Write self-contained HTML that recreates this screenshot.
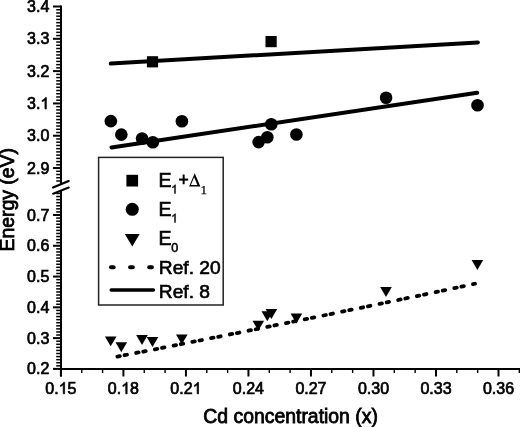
<!DOCTYPE html>
<html><head><meta charset="utf-8"><style>
html,body{margin:0;padding:0;background:#fff;}
body{width:520px;height:427px;overflow:hidden;}
svg{display:block;filter:blur(0.35px);}
text{font-family:"Liberation Sans",sans-serif;fill:#000;}
.tl{font-size:16px;stroke:#000;stroke-width:0.7px;}
.at{font-size:19.4px;stroke:#000;stroke-width:0.8px;}
.lg{font-size:19.2px;stroke:#000;stroke-width:0.65px;}
.sub{font-size:13px;stroke-width:0.35px;}
.subs{font-size:13px;font-family:"Liberation Serif",serif;stroke:#000;stroke-width:0.25px;}
.dl{font-family:"Liberation Serif",serif;stroke-width:0.3px;}
</style></head><body>
<svg width="520" height="427" viewBox="0 0 520 427">
<rect width="520" height="427" fill="#fff"/>
<line x1="61" y1="5.5" x2="61" y2="184.3" stroke="#000" stroke-width="2"/>
<line x1="53" y1="6.5" x2="61" y2="6.5" stroke="#000" stroke-width="2"/>
<line x1="56.2" y1="9.73" x2="61" y2="9.73" stroke="#000" stroke-width="1.5"/>
<line x1="56.2" y1="12.96" x2="61" y2="12.96" stroke="#000" stroke-width="1.5"/>
<line x1="56.2" y1="16.19" x2="61" y2="16.19" stroke="#000" stroke-width="1.5"/>
<line x1="56.2" y1="19.42" x2="61" y2="19.42" stroke="#000" stroke-width="1.5"/>
<line x1="56.2" y1="22.66" x2="61" y2="22.66" stroke="#000" stroke-width="1.5"/>
<line x1="56.2" y1="25.89" x2="61" y2="25.89" stroke="#000" stroke-width="1.5"/>
<line x1="56.2" y1="29.12" x2="61" y2="29.12" stroke="#000" stroke-width="1.5"/>
<line x1="56.2" y1="32.35" x2="61" y2="32.35" stroke="#000" stroke-width="1.5"/>
<line x1="56.2" y1="35.58" x2="61" y2="35.58" stroke="#000" stroke-width="1.5"/>
<line x1="53" y1="38.81" x2="61" y2="38.81" stroke="#000" stroke-width="2"/>
<line x1="56.2" y1="42.04" x2="61" y2="42.04" stroke="#000" stroke-width="1.5"/>
<line x1="56.2" y1="45.27" x2="61" y2="45.27" stroke="#000" stroke-width="1.5"/>
<line x1="56.2" y1="48.5" x2="61" y2="48.5" stroke="#000" stroke-width="1.5"/>
<line x1="56.2" y1="51.73" x2="61" y2="51.73" stroke="#000" stroke-width="1.5"/>
<line x1="56.2" y1="54.97" x2="61" y2="54.97" stroke="#000" stroke-width="1.5"/>
<line x1="56.2" y1="58.2" x2="61" y2="58.2" stroke="#000" stroke-width="1.5"/>
<line x1="56.2" y1="61.43" x2="61" y2="61.43" stroke="#000" stroke-width="1.5"/>
<line x1="56.2" y1="64.66" x2="61" y2="64.66" stroke="#000" stroke-width="1.5"/>
<line x1="56.2" y1="67.89" x2="61" y2="67.89" stroke="#000" stroke-width="1.5"/>
<line x1="53" y1="71.12" x2="61" y2="71.12" stroke="#000" stroke-width="2"/>
<line x1="56.2" y1="74.35" x2="61" y2="74.35" stroke="#000" stroke-width="1.5"/>
<line x1="56.2" y1="77.58" x2="61" y2="77.58" stroke="#000" stroke-width="1.5"/>
<line x1="56.2" y1="80.81" x2="61" y2="80.81" stroke="#000" stroke-width="1.5"/>
<line x1="56.2" y1="84.04" x2="61" y2="84.04" stroke="#000" stroke-width="1.5"/>
<line x1="56.2" y1="87.28" x2="61" y2="87.28" stroke="#000" stroke-width="1.5"/>
<line x1="56.2" y1="90.51" x2="61" y2="90.51" stroke="#000" stroke-width="1.5"/>
<line x1="56.2" y1="93.74" x2="61" y2="93.74" stroke="#000" stroke-width="1.5"/>
<line x1="56.2" y1="96.97" x2="61" y2="96.97" stroke="#000" stroke-width="1.5"/>
<line x1="56.2" y1="100.2" x2="61" y2="100.2" stroke="#000" stroke-width="1.5"/>
<line x1="53" y1="103.43" x2="61" y2="103.43" stroke="#000" stroke-width="2"/>
<line x1="56.2" y1="106.66" x2="61" y2="106.66" stroke="#000" stroke-width="1.5"/>
<line x1="56.2" y1="109.89" x2="61" y2="109.89" stroke="#000" stroke-width="1.5"/>
<line x1="56.2" y1="113.12" x2="61" y2="113.12" stroke="#000" stroke-width="1.5"/>
<line x1="56.2" y1="116.35" x2="61" y2="116.35" stroke="#000" stroke-width="1.5"/>
<line x1="56.2" y1="119.59" x2="61" y2="119.59" stroke="#000" stroke-width="1.5"/>
<line x1="56.2" y1="122.82" x2="61" y2="122.82" stroke="#000" stroke-width="1.5"/>
<line x1="56.2" y1="126.05" x2="61" y2="126.05" stroke="#000" stroke-width="1.5"/>
<line x1="56.2" y1="129.28" x2="61" y2="129.28" stroke="#000" stroke-width="1.5"/>
<line x1="56.2" y1="132.51" x2="61" y2="132.51" stroke="#000" stroke-width="1.5"/>
<line x1="53" y1="135.74" x2="61" y2="135.74" stroke="#000" stroke-width="2"/>
<line x1="56.2" y1="138.97" x2="61" y2="138.97" stroke="#000" stroke-width="1.5"/>
<line x1="56.2" y1="142.2" x2="61" y2="142.2" stroke="#000" stroke-width="1.5"/>
<line x1="56.2" y1="145.43" x2="61" y2="145.43" stroke="#000" stroke-width="1.5"/>
<line x1="56.2" y1="148.66" x2="61" y2="148.66" stroke="#000" stroke-width="1.5"/>
<line x1="56.2" y1="151.9" x2="61" y2="151.9" stroke="#000" stroke-width="1.5"/>
<line x1="56.2" y1="155.13" x2="61" y2="155.13" stroke="#000" stroke-width="1.5"/>
<line x1="56.2" y1="158.36" x2="61" y2="158.36" stroke="#000" stroke-width="1.5"/>
<line x1="56.2" y1="161.59" x2="61" y2="161.59" stroke="#000" stroke-width="1.5"/>
<line x1="56.2" y1="164.82" x2="61" y2="164.82" stroke="#000" stroke-width="1.5"/>
<line x1="53" y1="168.05" x2="61" y2="168.05" stroke="#000" stroke-width="2"/>
<line x1="56.2" y1="171.28" x2="61" y2="171.28" stroke="#000" stroke-width="1.5"/>
<line x1="56.2" y1="174.51" x2="61" y2="174.51" stroke="#000" stroke-width="1.5"/>
<line x1="56.2" y1="177.74" x2="61" y2="177.74" stroke="#000" stroke-width="1.5"/>
<line x1="56.2" y1="180.97" x2="61" y2="180.97" stroke="#000" stroke-width="1.5"/>
<line x1="61" y1="190.5" x2="61" y2="376.5" stroke="#000" stroke-width="2"/>
<line x1="56.2" y1="193.45" x2="61" y2="193.45" stroke="#000" stroke-width="1.5"/>
<line x1="56.2" y1="196.53" x2="61" y2="196.53" stroke="#000" stroke-width="1.5"/>
<line x1="56.2" y1="199.61" x2="61" y2="199.61" stroke="#000" stroke-width="1.5"/>
<line x1="56.2" y1="202.69" x2="61" y2="202.69" stroke="#000" stroke-width="1.5"/>
<line x1="56.2" y1="205.77" x2="61" y2="205.77" stroke="#000" stroke-width="1.5"/>
<line x1="56.2" y1="208.84" x2="61" y2="208.84" stroke="#000" stroke-width="1.5"/>
<line x1="56.2" y1="211.92" x2="61" y2="211.92" stroke="#000" stroke-width="1.5"/>
<line x1="53" y1="215" x2="61" y2="215" stroke="#000" stroke-width="2"/>
<line x1="56.2" y1="218.08" x2="61" y2="218.08" stroke="#000" stroke-width="1.5"/>
<line x1="56.2" y1="221.16" x2="61" y2="221.16" stroke="#000" stroke-width="1.5"/>
<line x1="56.2" y1="224.23" x2="61" y2="224.23" stroke="#000" stroke-width="1.5"/>
<line x1="56.2" y1="227.31" x2="61" y2="227.31" stroke="#000" stroke-width="1.5"/>
<line x1="56.2" y1="230.39" x2="61" y2="230.39" stroke="#000" stroke-width="1.5"/>
<line x1="56.2" y1="233.47" x2="61" y2="233.47" stroke="#000" stroke-width="1.5"/>
<line x1="56.2" y1="236.55" x2="61" y2="236.55" stroke="#000" stroke-width="1.5"/>
<line x1="56.2" y1="239.62" x2="61" y2="239.62" stroke="#000" stroke-width="1.5"/>
<line x1="56.2" y1="242.7" x2="61" y2="242.7" stroke="#000" stroke-width="1.5"/>
<line x1="53" y1="245.78" x2="61" y2="245.78" stroke="#000" stroke-width="2"/>
<line x1="56.2" y1="248.86" x2="61" y2="248.86" stroke="#000" stroke-width="1.5"/>
<line x1="56.2" y1="251.94" x2="61" y2="251.94" stroke="#000" stroke-width="1.5"/>
<line x1="56.2" y1="255.01" x2="61" y2="255.01" stroke="#000" stroke-width="1.5"/>
<line x1="56.2" y1="258.09" x2="61" y2="258.09" stroke="#000" stroke-width="1.5"/>
<line x1="56.2" y1="261.17" x2="61" y2="261.17" stroke="#000" stroke-width="1.5"/>
<line x1="56.2" y1="264.25" x2="61" y2="264.25" stroke="#000" stroke-width="1.5"/>
<line x1="56.2" y1="267.33" x2="61" y2="267.33" stroke="#000" stroke-width="1.5"/>
<line x1="56.2" y1="270.4" x2="61" y2="270.4" stroke="#000" stroke-width="1.5"/>
<line x1="56.2" y1="273.48" x2="61" y2="273.48" stroke="#000" stroke-width="1.5"/>
<line x1="53" y1="276.56" x2="61" y2="276.56" stroke="#000" stroke-width="2"/>
<line x1="56.2" y1="279.64" x2="61" y2="279.64" stroke="#000" stroke-width="1.5"/>
<line x1="56.2" y1="282.72" x2="61" y2="282.72" stroke="#000" stroke-width="1.5"/>
<line x1="56.2" y1="285.79" x2="61" y2="285.79" stroke="#000" stroke-width="1.5"/>
<line x1="56.2" y1="288.87" x2="61" y2="288.87" stroke="#000" stroke-width="1.5"/>
<line x1="56.2" y1="291.95" x2="61" y2="291.95" stroke="#000" stroke-width="1.5"/>
<line x1="56.2" y1="295.03" x2="61" y2="295.03" stroke="#000" stroke-width="1.5"/>
<line x1="56.2" y1="298.11" x2="61" y2="298.11" stroke="#000" stroke-width="1.5"/>
<line x1="56.2" y1="301.18" x2="61" y2="301.18" stroke="#000" stroke-width="1.5"/>
<line x1="56.2" y1="304.26" x2="61" y2="304.26" stroke="#000" stroke-width="1.5"/>
<line x1="53" y1="307.34" x2="61" y2="307.34" stroke="#000" stroke-width="2"/>
<line x1="56.2" y1="310.42" x2="61" y2="310.42" stroke="#000" stroke-width="1.5"/>
<line x1="56.2" y1="313.5" x2="61" y2="313.5" stroke="#000" stroke-width="1.5"/>
<line x1="56.2" y1="316.57" x2="61" y2="316.57" stroke="#000" stroke-width="1.5"/>
<line x1="56.2" y1="319.65" x2="61" y2="319.65" stroke="#000" stroke-width="1.5"/>
<line x1="56.2" y1="322.73" x2="61" y2="322.73" stroke="#000" stroke-width="1.5"/>
<line x1="56.2" y1="325.81" x2="61" y2="325.81" stroke="#000" stroke-width="1.5"/>
<line x1="56.2" y1="328.89" x2="61" y2="328.89" stroke="#000" stroke-width="1.5"/>
<line x1="56.2" y1="331.96" x2="61" y2="331.96" stroke="#000" stroke-width="1.5"/>
<line x1="56.2" y1="335.04" x2="61" y2="335.04" stroke="#000" stroke-width="1.5"/>
<line x1="53" y1="338.12" x2="61" y2="338.12" stroke="#000" stroke-width="2"/>
<line x1="56.2" y1="341.2" x2="61" y2="341.2" stroke="#000" stroke-width="1.5"/>
<line x1="56.2" y1="344.28" x2="61" y2="344.28" stroke="#000" stroke-width="1.5"/>
<line x1="56.2" y1="347.35" x2="61" y2="347.35" stroke="#000" stroke-width="1.5"/>
<line x1="56.2" y1="350.43" x2="61" y2="350.43" stroke="#000" stroke-width="1.5"/>
<line x1="56.2" y1="353.51" x2="61" y2="353.51" stroke="#000" stroke-width="1.5"/>
<line x1="56.2" y1="356.59" x2="61" y2="356.59" stroke="#000" stroke-width="1.5"/>
<line x1="56.2" y1="359.67" x2="61" y2="359.67" stroke="#000" stroke-width="1.5"/>
<line x1="56.2" y1="362.74" x2="61" y2="362.74" stroke="#000" stroke-width="1.5"/>
<line x1="56.2" y1="365.82" x2="61" y2="365.82" stroke="#000" stroke-width="1.5"/>
<line x1="53" y1="368.9" x2="61" y2="368.9" stroke="#000" stroke-width="2"/>
<line x1="53" y1="187.6" x2="68.7" y2="180.9" stroke="#000" stroke-width="2.2" stroke-linecap="round"/>
<line x1="53.2" y1="193.7" x2="68.7" y2="187.6" stroke="#000" stroke-width="2.2" stroke-linecap="round"/>
<line x1="60" y1="369" x2="520" y2="369" stroke="#000" stroke-width="2"/>
<line x1="60.9" y1="369" x2="60.9" y2="376.5" stroke="#000" stroke-width="2"/>
<line x1="81.74" y1="369" x2="81.74" y2="373" stroke="#000" stroke-width="1.4"/>
<line x1="102.58" y1="369" x2="102.58" y2="373" stroke="#000" stroke-width="1.4"/>
<line x1="123.41" y1="369" x2="123.41" y2="376.5" stroke="#000" stroke-width="2"/>
<line x1="144.25" y1="369" x2="144.25" y2="373" stroke="#000" stroke-width="1.4"/>
<line x1="165.09" y1="369" x2="165.09" y2="373" stroke="#000" stroke-width="1.4"/>
<line x1="185.93" y1="369" x2="185.93" y2="376.5" stroke="#000" stroke-width="2"/>
<line x1="206.77" y1="369" x2="206.77" y2="373" stroke="#000" stroke-width="1.4"/>
<line x1="227.6" y1="369" x2="227.6" y2="373" stroke="#000" stroke-width="1.4"/>
<line x1="248.44" y1="369" x2="248.44" y2="376.5" stroke="#000" stroke-width="2"/>
<line x1="269.28" y1="369" x2="269.28" y2="373" stroke="#000" stroke-width="1.4"/>
<line x1="290.12" y1="369" x2="290.12" y2="373" stroke="#000" stroke-width="1.4"/>
<line x1="310.96" y1="369" x2="310.96" y2="376.5" stroke="#000" stroke-width="2"/>
<line x1="331.79" y1="369" x2="331.79" y2="373" stroke="#000" stroke-width="1.4"/>
<line x1="352.63" y1="369" x2="352.63" y2="373" stroke="#000" stroke-width="1.4"/>
<line x1="373.47" y1="369" x2="373.47" y2="376.5" stroke="#000" stroke-width="2"/>
<line x1="394.31" y1="369" x2="394.31" y2="373" stroke="#000" stroke-width="1.4"/>
<line x1="415.15" y1="369" x2="415.15" y2="373" stroke="#000" stroke-width="1.4"/>
<line x1="435.98" y1="369" x2="435.98" y2="376.5" stroke="#000" stroke-width="2"/>
<line x1="456.82" y1="369" x2="456.82" y2="373" stroke="#000" stroke-width="1.4"/>
<line x1="477.66" y1="369" x2="477.66" y2="373" stroke="#000" stroke-width="1.4"/>
<line x1="498.5" y1="369" x2="498.5" y2="376.5" stroke="#000" stroke-width="2"/>
<line x1="519.34" y1="369" x2="519.34" y2="373" stroke="#000" stroke-width="1.4"/>
<text x="27.06" y="12.00" class="tl">3.4</text>
<text x="27.06" y="44.31" class="tl">3.3</text>
<text x="27.06" y="76.62" class="tl">3.2</text>
<text x="27.06" y="108.93" class="tl">3.<tspan style="fill:none;stroke:none">1</tspan></text><path transform="translate(40.40,108.93) scale(0.00781,-0.00781)" d="M763 0H583V1147Q518 1085 412 1023Q306 961 221 930V1104Q372 1175 485 1276Q598 1377 645 1472H763Z" fill="#000" stroke="#000" stroke-width="89.6"/>
<text x="27.06" y="141.24" class="tl">3.0</text>
<text x="27.06" y="173.55" class="tl">2.9</text>
<text x="27.06" y="220.50" class="tl">0.7</text>
<text x="27.06" y="251.28" class="tl">0.6</text>
<text x="27.06" y="282.06" class="tl">0.5</text>
<text x="27.06" y="312.84" class="tl">0.4</text>
<text x="27.06" y="343.62" class="tl">0.3</text>
<text x="27.06" y="374.40" class="tl">0.2</text>
<text x="45.33" y="393.80" class="tl">0.<tspan style="fill:none;stroke:none">1</tspan>5</text><path transform="translate(58.67,393.80) scale(0.00781,-0.00781)" d="M763 0H583V1147Q518 1085 412 1023Q306 961 221 930V1104Q372 1175 485 1276Q598 1377 645 1472H763Z" fill="#000" stroke="#000" stroke-width="89.6"/>
<text x="107.84" y="393.80" class="tl">0.<tspan style="fill:none;stroke:none">1</tspan>8</text><path transform="translate(121.19,393.80) scale(0.00781,-0.00781)" d="M763 0H583V1147Q518 1085 412 1023Q306 961 221 930V1104Q372 1175 485 1276Q598 1377 645 1472H763Z" fill="#000" stroke="#000" stroke-width="89.6"/>
<text x="170.36" y="393.80" class="tl">0.2<tspan style="fill:none;stroke:none">1</tspan></text><path transform="translate(192.60,393.80) scale(0.00781,-0.00781)" d="M763 0H583V1147Q518 1085 412 1023Q306 961 221 930V1104Q372 1175 485 1276Q598 1377 645 1472H763Z" fill="#000" stroke="#000" stroke-width="89.6"/>
<text x="232.87" y="393.80" class="tl">0.24</text>
<text x="295.39" y="393.80" class="tl">0.27</text>
<text x="357.90" y="393.80" class="tl">0.30</text>
<text x="420.41" y="393.80" class="tl">0.33</text>
<text x="482.93" y="393.80" class="tl">0.36</text>
<text x="290.6" y="422.6" text-anchor="middle" class="at">Cd concentration (x)</text>
<text transform="translate(13.8,199.8) rotate(-90)" x="0" y="0" text-anchor="middle" class="at">Energy (eV)</text>
<line x1="110.8" y1="63.6" x2="477.9" y2="42.4" stroke="#000" stroke-width="4" stroke-linecap="round"/>
<line x1="111.5" y1="147.4" x2="477.2" y2="92.8" stroke="#000" stroke-width="4" stroke-linecap="round"/>
<path d="M117.40 356.61 Q296.20 321.92 475.00 283.76" fill="none" stroke="#000" stroke-width="3.8" stroke-linecap="round" stroke-dasharray="2.5 4.8 2.5 9.3"/>
<rect x="146.9" y="56.2" width="11.2" height="11.2" fill="#000"/>
<rect x="265.5" y="36" width="11.2" height="11.2" fill="#000"/>
<circle cx="110.85" cy="121.15" r="6.3" fill="#000"/>
<circle cx="121.35" cy="134.6" r="6.3" fill="#000"/>
<circle cx="142.05" cy="138.45" r="6.3" fill="#000"/>
<circle cx="152.85" cy="142.25" r="6.3" fill="#000"/>
<circle cx="181.9" cy="121.2" r="6.3" fill="#000"/>
<circle cx="258.6" cy="142.1" r="6.3" fill="#000"/>
<circle cx="267.3" cy="137.3" r="6.3" fill="#000"/>
<circle cx="271.3" cy="124.2" r="6.3" fill="#000"/>
<circle cx="296.4" cy="134.5" r="6.3" fill="#000"/>
<circle cx="386.1" cy="97.8" r="6.3" fill="#000"/>
<circle cx="477.5" cy="105.3" r="6.3" fill="#000"/>
<path d="M104.9 336.4 L116.5 336.4 L110.7 346.3 Z" fill="#000"/>
<path d="M115.5 342.3 L127.1 342.3 L121.3 352.2 Z" fill="#000"/>
<path d="M136.2 335.1 L147.8 335.1 L142 345 Z" fill="#000"/>
<path d="M146.7 337 L158.3 337 L152.5 346.9 Z" fill="#000"/>
<path d="M176 334.6 L187.6 334.6 L181.8 344.5 Z" fill="#000"/>
<path d="M252.5 320.8 L264.1 320.8 L258.3 330.7 Z" fill="#000"/>
<path d="M261.5 311.3 L273.1 311.3 L267.3 321.2 Z" fill="#000"/>
<path d="M265.6 309 L277.2 309 L271.4 318.9 Z" fill="#000"/>
<path d="M290.6 313.5 L302.2 313.5 L296.4 323.4 Z" fill="#000"/>
<path d="M380.2 287 L391.8 287 L386 296.9 Z" fill="#000"/>
<path d="M471.6 260.1 L483.2 260.1 L477.4 270 Z" fill="#000"/>
<rect x="98.6" y="157.4" width="124.6" height="147.6" fill="#fff" stroke="#222" stroke-width="1.5"/>
<rect x="126.4" y="174.8" width="11.7" height="11.7" fill="#000"/>
<path transform="translate(171.00,193.50) scale(0.00596,-0.00596)" d="M763 0H583V1147Q518 1085 412 1023Q306 961 221 930V1104Q372 1175 485 1276Q598 1377 645 1472H763Z" fill="#000" stroke="#000" stroke-width="67.1"/>
<text x="158.5" y="187" class="lg" style="font-size:19.5px">E</text>
<text x="178.4" y="186.3" class="lg" style="font-size:17.5px">+</text>
<path d="M194.70 173.30 L189.10 186.60 L200.40 186.60 Z M194.12 177.27 L197.39 184.90 L190.90 184.90 Z" fill="#000" fill-rule="evenodd"/>
<text x="200.4" y="193.5" class="subs">1</text>
<circle cx="132.25" cy="209.3" r="6.55" fill="#000"/>
<path transform="translate(171.00,222.40) scale(0.00596,-0.00596)" d="M763 0H583V1147Q518 1085 412 1023Q306 961 221 930V1104Q372 1175 485 1276Q598 1377 645 1472H763Z" fill="#000" stroke="#000" stroke-width="67.1"/>
<text x="158.5" y="215.8" class="lg" style="font-size:19.5px">E</text>
<path d="M124.8 234 L139.7 234 L132.25 246.4 Z" fill="#000"/>
<text x="158.5" y="244.8" class="lg" style="font-size:19.5px">E</text>
<text x="171.2" y="252.2" class="lg" style="font-size:12.5px;stroke-width:0.55px">0</text>
<line x1="111" y1="267.3" x2="153" y2="267.3" stroke="#000" stroke-width="4.1" stroke-linecap="round" stroke-dasharray="2.7 16.4"/>
<text x="158.8" y="273.6" class="lg">Ref. 20</text>
<line x1="111.2" y1="290.1" x2="153.4" y2="290.1" stroke="#000" stroke-width="3.5" stroke-linecap="round"/>
<text x="158.8" y="297.6" class="lg">Ref. 8</text>
</svg>
</body></html>
